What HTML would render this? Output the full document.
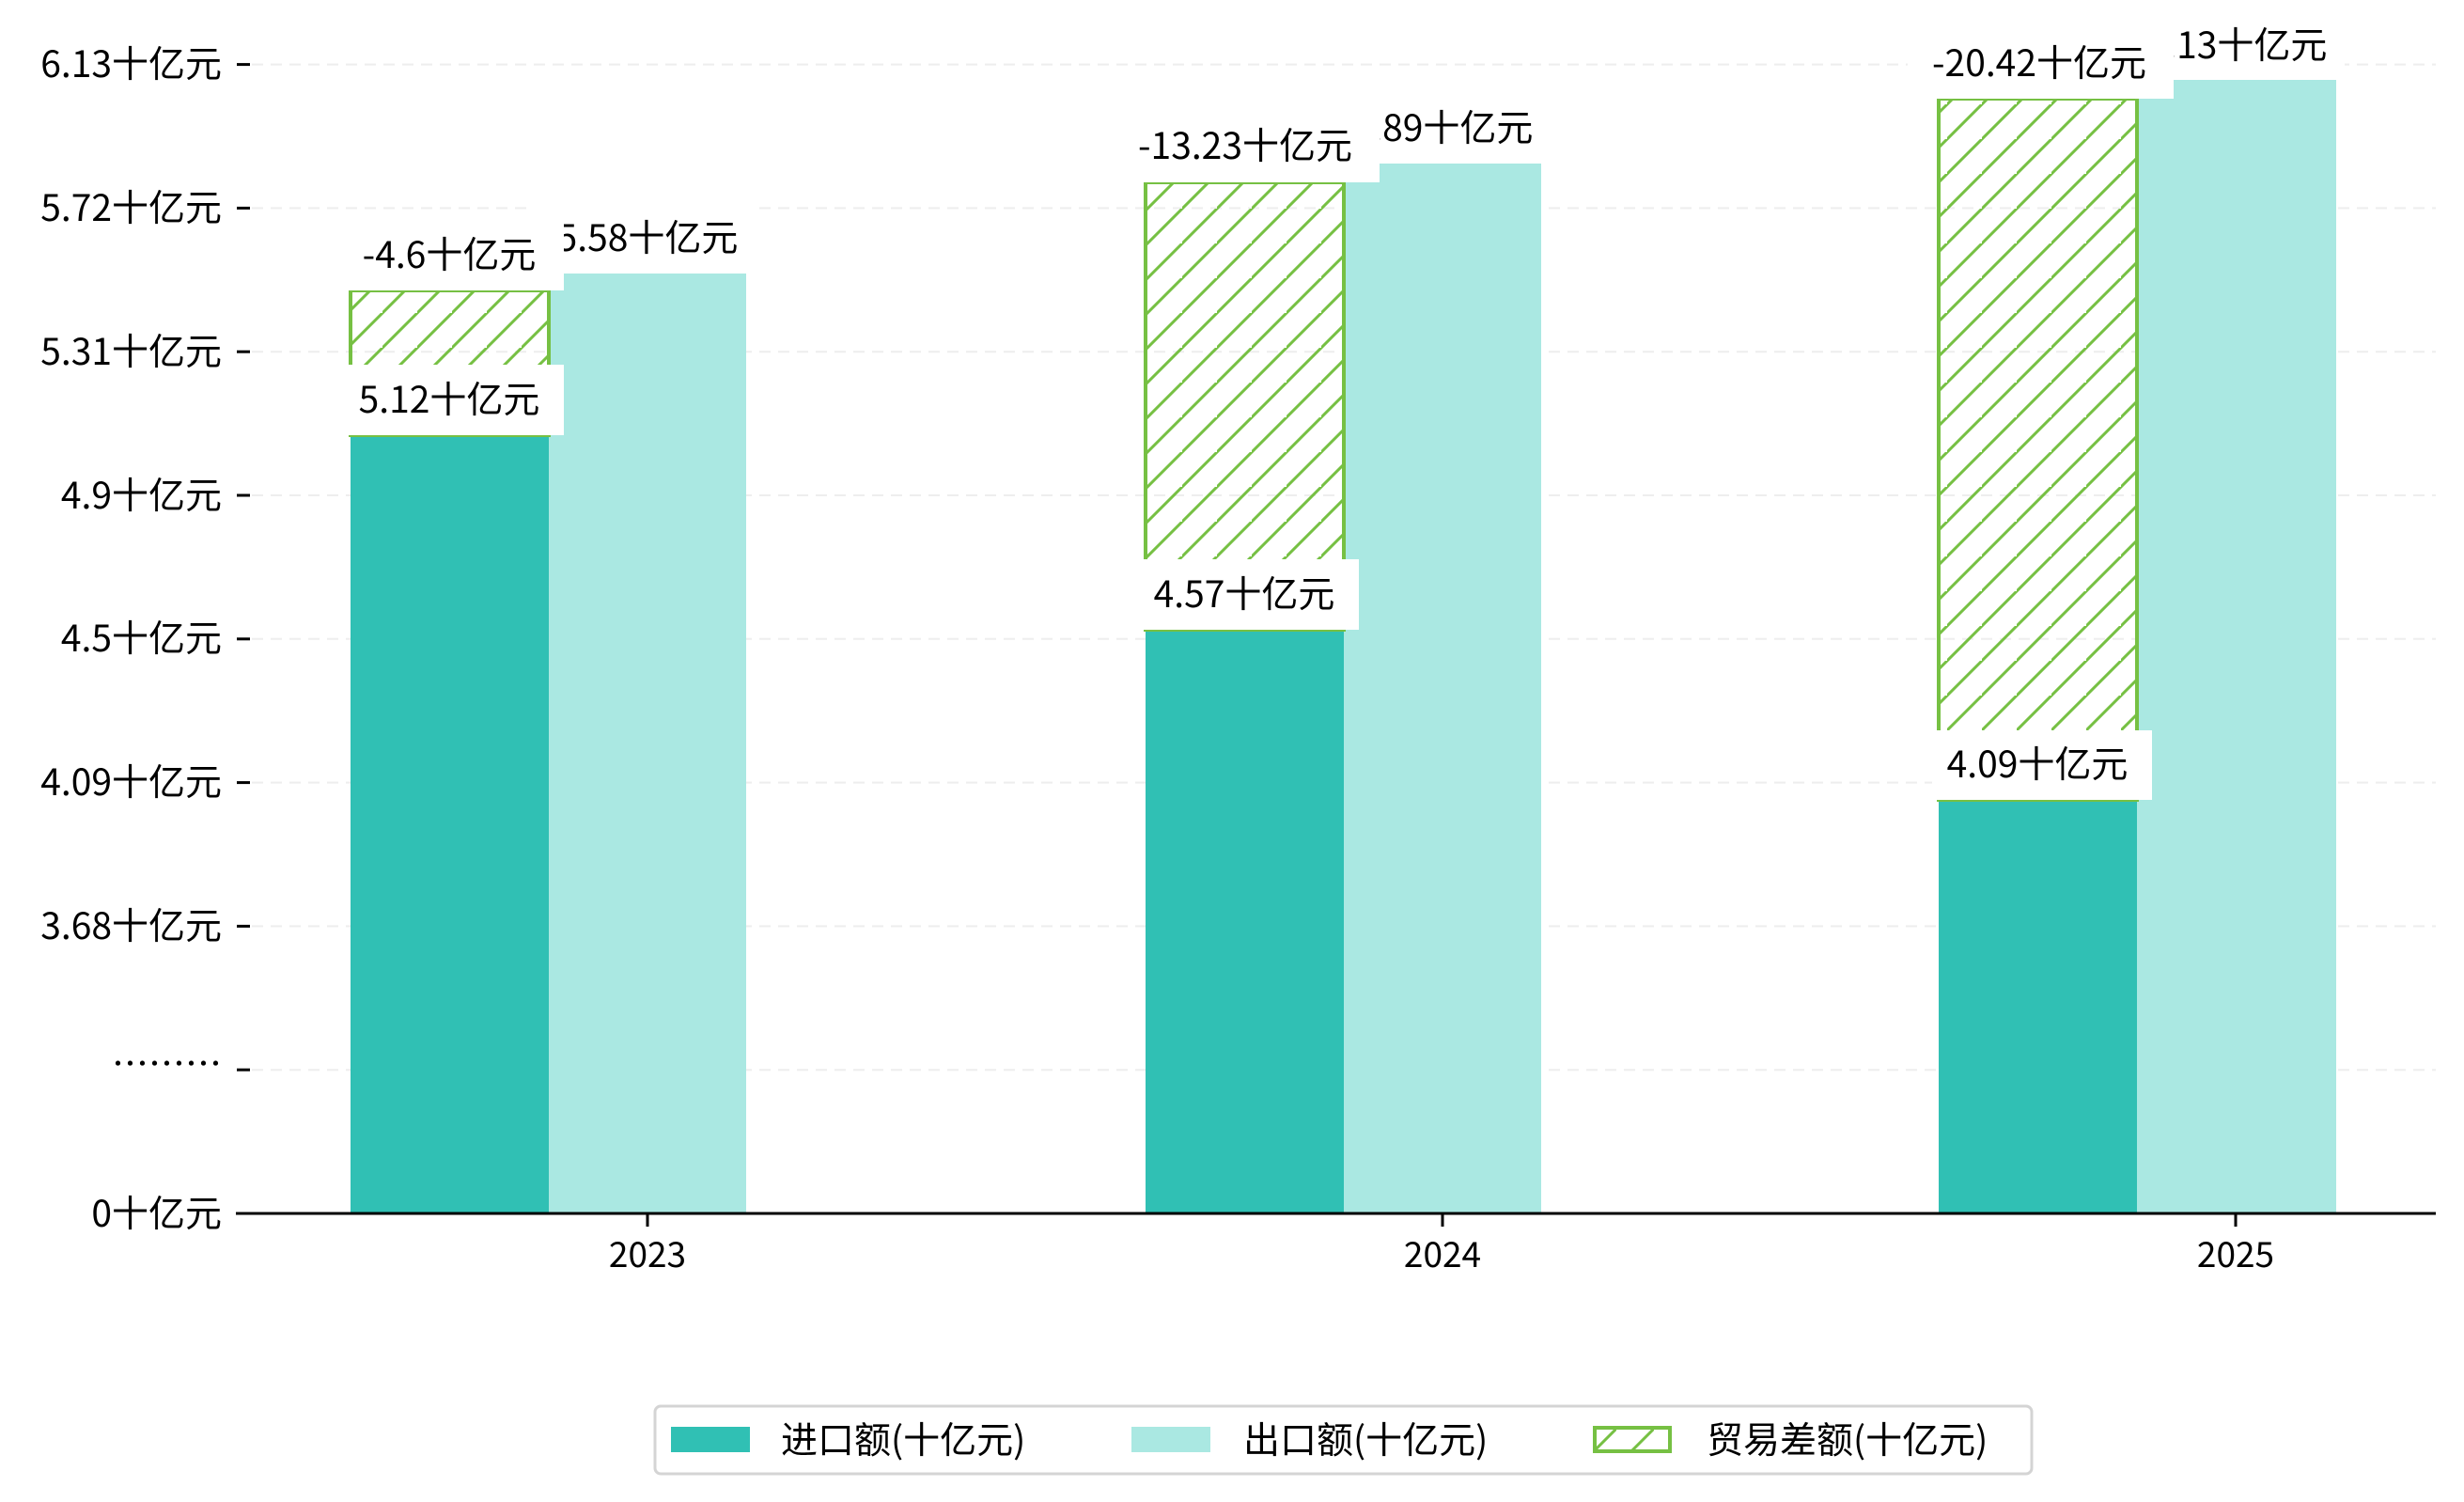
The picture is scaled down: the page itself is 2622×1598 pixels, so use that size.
<!DOCTYPE html>
<html><head><meta charset="utf-8"><style>
html,body{margin:0;padding:0;background:#fff;}
svg{display:block;}
text{font-family:"WenQuanYi Zen Hei","Noto Sans CJK SC",sans-serif;fill:#000;}
</style></head><body>
<svg width="2622" height="1598" viewBox="0 0 2622 1598" xmlns="http://www.w3.org/2000/svg">
<defs>
<pattern id="h" patternUnits="userSpaceOnUse" width="37" height="37">
<path d="M-5,42 L42,-5 M-42,42 L42,-42 M5,79 L79,5" stroke="#76c043" stroke-width="3"/>
</pattern>
<pattern id="hl" patternUnits="userSpaceOnUse" width="40" height="40">
<path d="M-5,45 L45,-5" stroke="#76c043" stroke-width="3"/>
</pattern>
</defs>
<g stroke="#eeeeee" stroke-width="2" stroke-dasharray="12,8">
<line x1="268" x2="2592" y1="68.6" y2="68.6"/>
<line x1="268" x2="2592" y1="221.4" y2="221.4"/>
<line x1="268" x2="2592" y1="374.2" y2="374.2"/>
<line x1="268" x2="2592" y1="527" y2="527"/>
<line x1="268" x2="2592" y1="679.8" y2="679.8"/>
<line x1="268" x2="2592" y1="832.6" y2="832.6"/>
<line x1="268" x2="2592" y1="985.4" y2="985.4"/>
<line x1="268" x2="2592" y1="1138.2" y2="1138.2"/>
</g>
<g>
<rect x="373" y="463" width="211" height="828" fill="#30c0b4"/>
<rect x="584" y="291" width="210" height="1000" fill="#aae8e2"/>
<rect x="1219" y="670" width="211" height="621" fill="#30c0b4"/>
<rect x="1430" y="174" width="210" height="1117" fill="#aae8e2"/>
<rect x="2063" y="851" width="211" height="440" fill="#30c0b4"/>
<rect x="2274" y="85" width="212" height="1206" fill="#aae8e2"/>
</g>
<g stroke="#76c043" stroke-width="4">
<rect x="373" y="309" width="211" height="154" fill="url(#h)"/>
<rect x="1219" y="194" width="211" height="476" fill="url(#h)"/>
<rect x="2063" y="105" width="211" height="746" fill="url(#h)"/>
</g>
<g font-size="39" text-anchor="middle">
<rect x="565" y="218" width="240" height="73" fill="#fff"/>
<text x="689" y="267">5.58十亿元</text>
<rect x="1410" y="101" width="240" height="73" fill="#fff"/>
<text x="1535" y="150">5.89十亿元</text>
<rect x="2255" y="15" width="240" height="70" fill="#fff"/>
<text x="2380" y="62">6.13十亿元</text>
</g>
<g font-size="39" text-anchor="middle">
<rect x="366" y="234" width="234" height="75" fill="#fff"/>
<text x="478" y="285">-4.6十亿元</text>
<rect x="1185" y="119" width="283" height="75" fill="#fff"/>
<text x="1325" y="169">-13.23十亿元</text>
<rect x="2030" y="30" width="283" height="75" fill="#fff"/>
<text x="2170" y="81">-20.42十亿元</text>
</g>
<g font-size="39" text-anchor="middle">
<rect x="366" y="388" width="234" height="75" fill="#fff"/>
<text x="478" y="439">5.12十亿元</text>
<rect x="1212" y="595" width="234" height="75" fill="#fff"/>
<text x="1324" y="646">4.57十亿元</text>
<rect x="2056" y="777" width="234" height="74" fill="#fff"/>
<text x="2168" y="827">4.09十亿元</text>
</g>
<line x1="251" x2="2592" y1="1291" y2="1291" stroke="#000" stroke-width="3"/>
<g stroke="#000" stroke-width="3">
<line x1="252" x2="266" y1="68.6" y2="68.6"/>
<line x1="252" x2="266" y1="221.4" y2="221.4"/>
<line x1="252" x2="266" y1="374.2" y2="374.2"/>
<line x1="252" x2="266" y1="527" y2="527"/>
<line x1="252" x2="266" y1="679.8" y2="679.8"/>
<line x1="252" x2="266" y1="832.6" y2="832.6"/>
<line x1="252" x2="266" y1="985.4" y2="985.4"/>
<line x1="252" x2="266" y1="1138.2" y2="1138.2"/>
<line x1="252" x2="266" y1="1291" y2="1291"/>
<line x1="689" x2="689" y1="1291" y2="1305"/>
<line x1="1535" x2="1535" y1="1291" y2="1305"/>
<line x1="2379" x2="2379" y1="1291" y2="1305"/>
</g>
<g font-size="39" text-anchor="end">
<text x="236" y="82">6.13十亿元</text>
<text x="236" y="235">5.72十亿元</text>
<text x="236" y="388">5.31十亿元</text>
<text x="236" y="541">4.9十亿元</text>
<text x="236" y="693">4.5十亿元</text>
<text x="236" y="846">4.09十亿元</text>
<text x="236" y="999">3.68十亿元</text>
<text x="236" y="1146">………</text>
<text x="236" y="1305">0十亿元</text>
</g>
<g font-size="37" text-anchor="middle">
<text x="689" y="1348">2023</text>
<text x="1535" y="1348">2024</text>
<text x="2379" y="1348">2025</text>
</g>
<rect x="697" y="1496" width="1465" height="72" rx="6" fill="#fff" stroke="#d4d4d4" stroke-width="3"/>
<rect x="714" y="1518" width="84" height="27" fill="#30c0b4"/>
<rect x="1204" y="1518" width="84" height="27" fill="#aae8e2"/>
<rect x="1697" y="1519" width="80" height="25" fill="url(#hl)" stroke="#76c043" stroke-width="4"/>
<g font-size="39">
<text x="831" y="1546">进口额(十亿元)</text>
<text x="1323" y="1546">出口额(十亿元)</text>
<text x="1816" y="1546">贸易差额(十亿元)</text>
</g>
</svg>
</body></html>
